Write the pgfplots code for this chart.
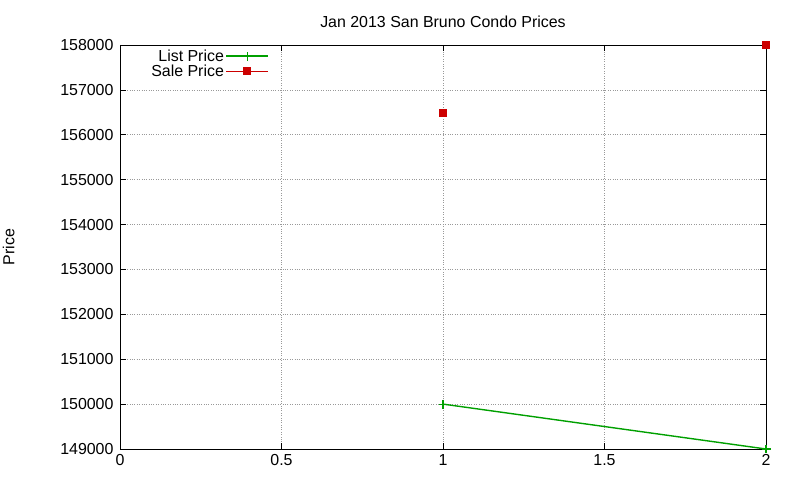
\documentclass[border=0pt]{standalone}
\usepackage{pgfplots}
\pgfplotsset{compat=1.18}
\usepackage{fontspec}
\setmainfont{Liberation Sans}
\definecolor{gpgreen}{RGB}{0,160,0}
\definecolor{gpred}{RGB}{204,0,0}
\newcommand{\gpfont}{\fontsize{16}{18}\selectfont}
\begin{document}
\begin{tikzpicture}[x=1bp,y=1bp]
\useasboundingbox (0,0) rectangle (800,480);
\begin{axis}[
  at={(120bp,31bp)}, anchor=south west,
  scale only axis,
  width=646bp, height=404bp,
  xmin=0, xmax=2, ymin=149000, ymax=158000,
  xtick={0,0.5,1,1.5,2},
  xticklabels={0,0.5,1,1.5,2},
  ytick={149000,150000,151000,152000,153000,154000,155000,156000,157000,158000},
  yticklabels={149000,150000,151000,152000,153000,154000,155000,156000,157000,158000},
  scaled ticks=false,
  tick label style={font=\gpfont},
  xticklabel style={yshift=-2bp},
  yticklabel style={xshift=-3bp},
  tick align=inside,
  major tick length=6bp,
  grid=major,
  grid style={dotted, gray!80, line width=0.7pt},
  axis line style={line width=0.7pt},
  tick style={line width=0.7pt, black},
  title={Jan 2013 San Bruno Condo Prices},
  title style={font=\gpfont, at={(0.5,1)}, yshift=8bp},
  ylabel={Price},
  ylabel style={font=\gpfont, at={(-0.158,0.5)}},
  legend style={draw=none, fill=none, at={(0.2307,0.993)}, anchor=north east,
    font=\gpfont, row sep=-1bp, inner sep=0pt,
    nodes={inner sep=1.5pt}},
  legend cell align=right,
  legend plot pos=right,
  clip mode=individual,
]
\addplot[color=gpgreen, line width=1.4pt, mark=+, mark size=4.5pt,
  mark options={line width=1.1pt},
  legend image code/.code={
    \draw[gpgreen, line width=1.4pt] (6bp,0bp) -- (48bp,0bp);
    \draw[gpgreen, line width=1.1pt] (27bp,-4.5bp) -- (27bp,4.5bp);
  }] coordinates {(1,150000) (2,149000)};
\addlegendentry{List Price}
\addplot[only marks, color=gpred, mark=square*, mark size=3.5pt,
  legend image code/.code={
    \fill[gpred] (23.5bp,-3.5bp) rectangle (30.5bp,3.5bp);
    \path (6bp,0bp) -- (48bp,0bp);
  }] coordinates {(1,156500) (2,158000)};
\addlegendentry{Sale Price}
\end{axis}
\end{tikzpicture}
\end{document}
